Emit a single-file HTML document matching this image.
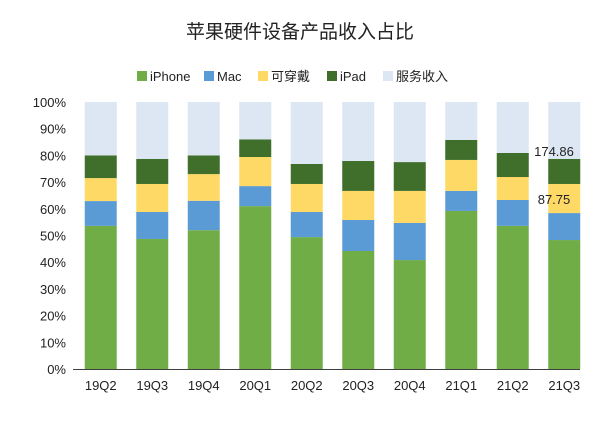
<!DOCTYPE html>
<html><head><meta charset="utf-8"><style>
body{margin:0;background:#fff;}
svg text{font-family:"Liberation Sans","Noto Sans CJK SC",sans-serif;}
</style></head><body>
<svg id="chart" width="600" height="420">
<text x="300" y="38" text-anchor="middle" font-size="19" fill="#222">苹果硬件设备产品收入占比</text>
<g id="legend"></g>
<g id="axis"></g>
<g id="bars"></g>
<g id="xaxis"></g>
<text x="554" y="156" text-anchor="middle" font-size="13" fill="#222">174.86</text>
<text x="554" y="204" text-anchor="middle" font-size="13" fill="#222">87.75</text>
</svg>
<script>
const categories=["19Q2","19Q3","19Q4","20Q1","20Q2","20Q3","20Q4","21Q1","21Q2","21Q3"];
const seriesNames=["iPhone","Mac","可穿戴","iPad","服务收入"];
const iphone=[53.6,48.7,52,61,49.4,44.2,40.8,59.2,53.6,48.3];
const mac=[9.3,10.1,11,7.5,9.4,11.6,13.9,7.5,9.7,10.1];
const wearables=[8.6,10.5,10,10.9,10.5,10.9,12,11.6,8.6,10.9];
const ipad=[8.5,9.4,7,6.6,7.5,11.2,10.8,7.5,9,9.4];
const services=[20,21.3,20,14,23.2,22.1,22.5,14.2,19.1,21.3];
const yTicks=[0,10,20,30,40,50,60,70,80,90,100];
const colors=["#70ad47","#5b9bd5","#ffd966","#3f6f2a","#dce7f3"];
const NS="http://www.w3.org/2000/svg";
const x0=75,x1=590,yb=369,yt=102;
const y=v=>yb-(v/100)*(yb-yt);
const band=(x1-x0)/categories.length;
const xc=i=>x0+band*(i+0.5);
function mk(t,a,p){const e=document.createElementNS(NS,t);for(const k in a)e.setAttribute(k,a[k]);p.appendChild(e);return e;}
const ax=document.getElementById('axis');
yTicks.forEach(t=>{const e=mk('text',{x:66,y:y(t)+5,'text-anchor':'end','font-size':13,fill:'#222'},ax);e.textContent=t+'%';

});
const series=[iphone,mac,wearables,ipad,services];
const bars=document.getElementById('bars');
const xa=document.getElementById('xaxis');
categories.forEach((c,i)=>{let acc=0;
series.forEach((s,k)=>{const v=s[i];const r=mk('rect',{x:xc(i)-16,width:32,y:y(acc+v),height:y(acc)-y(acc+v),fill:colors[k]},bars);

acc+=v;});
const t=mk('text',{x:xc(i),y:390,'text-anchor':'middle','font-size':13,fill:'#222'},xa);t.textContent=c;

});
mk('line',{x1:x0-2,x2:x1-10,y1:yb+0.5,y2:yb+0.5,stroke:'#404040'},xa);
const lg=document.getElementById('legend');
const lx=[137,204,258,327,383];
seriesNames.forEach((n,k)=>{const g=mk('g',{},lg);


mk('rect',{x:lx[k],y:71,width:10,height:10,fill:colors[k]},g);
const t=mk('text',{x:lx[k]+13,y:81,'font-size':13,fill:'#222'},g);t.textContent=n;});
</script>
</body></html>
